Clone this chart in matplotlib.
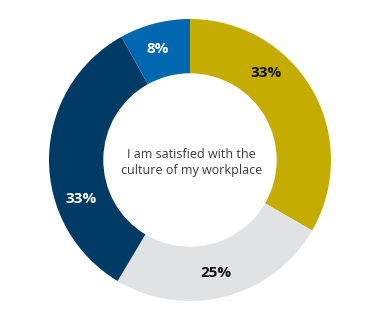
import numpy as np
import matplotlib
matplotlib.use("Agg")
import matplotlib.pyplot as plt

categories = ["Agree", "Neutral", "Disagree", "Other"]
values = [33, 25, 33, 8]
labels = ["33%", "25%", "33%", "8%"]
colors = ["#C4AD00", "#E1E2E4", "#003B66", "#0067B0"]
label_colors = ["#111111", "#111111", "#FFFFFF", "#FFFFFF"]
label_fracs = [0.655, 0.48, 0.67, 0.55]
center_text = "I am satisfied with the\nculture of my workplace"

W, H = 383, 320
fig = plt.figure(figsize=(W / 100, H / 100), dpi=100)
ax = fig.add_axes([0, 0, 1, 1])
cx, cy, R = 190, 160, 141

wedges, _ = ax.pie(values, colors=colors, startangle=90, counterclock=False,
                   radius=1.0, wedgeprops=dict(width=0.385, linewidth=0),
                   normalize=True)
ax.set_xlim(-cx / R, (W - cx) / R)
ax.set_ylim(-(H - cy) / R, cy / R)
ax.set_aspect("equal")
ax.axis("off")

for w, lab, lc, fr in zip(wedges, labels, label_colors, label_fracs):
    ang = np.deg2rad(w.theta1 + fr * (w.theta2 - w.theta1))
    r = 0.82
    ax.text(r * np.cos(ang), r * np.sin(ang), lab, ha="center", va="center",
            fontsize=11, fontweight="bold", color=lc, family="Open Sans")

ax.text(0.01, -0.02, center_text, ha="center", va="center", fontsize=9,
        color="#3A3A3A", family="Open Sans", linespacing=1.3)

fig.savefig("out.png", dpi=100)
